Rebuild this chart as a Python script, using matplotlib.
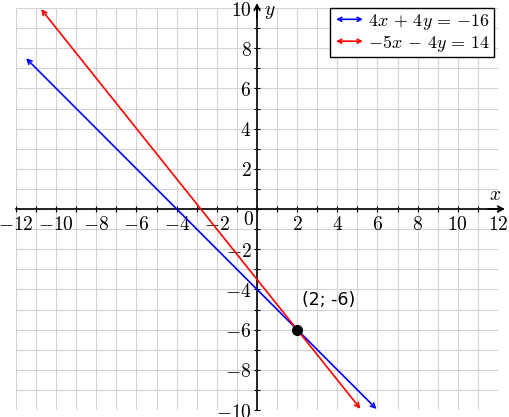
import matplotlib
matplotlib.use("Agg")
import matplotlib.pyplot as plt
from matplotlib.patches import FancyArrowPatch
from matplotlib.legend_handler import HandlerBase
from matplotlib.lines import Line2D

plt.rcParams['mathtext.fontset'] = 'cm'

# line endpoints
blue_x = [-11.5, 5.95]
blue_y = [7.5, -9.95]
red_x = [-10.75, 5.15]
red_y = [9.94, -9.94]
blue_label = r'$4x\,+\,4y\,=\,{-16}$'
red_label = r'${-5}x\,-\,4y\,=\,14$'
point_x, point_y = 2, -6
point_label = '(2; -6)'

x_ticks = [-12, -10, -8, -6, -4, -2, 2, 4, 6, 8, 10, 12]
y_ticks = [-10, -8, -6, -4, -2, 2, 4, 6, 8, 10]


class ArrowHandler(HandlerBase):
    # draws a double arrow as the legend handle
    def create_artists(self, legend, orig_handle, xdescent, ydescent,
                       width, height, fontsize, trans):
        yy = height / 2 - ydescent
        a = FancyArrowPatch((-xdescent, yy), (width - xdescent, yy),
                            arrowstyle='<->', mutation_scale=7,
                            color=orig_handle.get_color(), lw=1.2,
                            transform=trans)
        return [a]


fig = plt.figure(figsize=(5.09, 4.17), dpi=100)
ax = fig.add_axes([16 / 509, 7 / 417, 482 / 509, 402 / 417])
ax.set_xlim(-12, 12)
ax.set_ylim(-10, 10)

# grid every unit
for gx in range(-12, 13):
    ax.plot([gx, gx], [-10, 10], color='#d3d3d3', lw=0.8, zorder=0)
for gy in range(-10, 11):
    ax.plot([-12, 12], [gy, gy], color='#d3d3d3', lw=0.8, zorder=0)

for s in ['top', 'right']:
    ax.spines[s].set_visible(False)
ax.spines['left'].set_position('zero')
ax.spines['bottom'].set_position('zero')
ax.spines['left'].set_linewidth(1.2)
ax.spines['bottom'].set_linewidth(1.2)

ax.set_xticks(x_ticks)
ax.set_xticklabels(['$%d$' % t for t in x_ticks], fontsize=14)
ax.set_yticks(y_ticks)
ax.set_yticklabels(['$%d$' % t for t in y_ticks], fontsize=14)
ax.set_xticks(range(-12, 13), minor=True)
ax.set_yticks(range(-10, 11), minor=True)
ax.tick_params(which='both', direction='inout', length=4, width=0.8, pad=2)
ax.text(-0.15, -0.05, '$0$', fontsize=14, ha='right', va='top')

# axis arrows
ax.annotate('', xy=(12.35, 0), xytext=(11.5, 0),
            arrowprops=dict(arrowstyle='->', lw=1.2, color='black',
                            shrinkA=0, shrinkB=0), annotation_clip=False)
ax.annotate('', xy=(0, 10.25), xytext=(0, 9.5),
            arrowprops=dict(arrowstyle='->', lw=1.2, color='black',
                            shrinkA=0, shrinkB=0), annotation_clip=False)
ax.text(11.85, 0.25, '$x$', fontsize=14, ha='center', va='bottom')
ax.text(0.35, 9.85, '$y$', fontsize=14, ha='left', va='center')

# the two lines with arrows on both ends
ax.annotate('', xy=(blue_x[0], blue_y[0]), xytext=(blue_x[1], blue_y[1]),
            arrowprops=dict(arrowstyle='<->', color='blue', lw=1.2,
                            mutation_scale=8, shrinkA=0, shrinkB=0),
            annotation_clip=False)
ax.annotate('', xy=(red_x[0], red_y[0]), xytext=(red_x[1], red_y[1]),
            arrowprops=dict(arrowstyle='<->', color='red', lw=1.2,
                            mutation_scale=8, shrinkA=0, shrinkB=0),
            annotation_clip=False)

ax.plot(point_x, point_y, 'o', color='black', ms=7, zorder=5)
ax.text(point_x + 0.25, point_y + 1.45, point_label, fontsize=12.5,
        ha='left', va='center')

handles = [Line2D([], [], color='blue'), Line2D([], [], color='red')]
leg = ax.legend(handles, [blue_label, red_label],
                handler_map={Line2D: ArrowHandler()},
                loc='upper right', bbox_to_anchor=(0.992, 1.0),
                borderaxespad=0, fancybox=False, edgecolor='black',
                framealpha=1, fontsize=13, handlelength=1.8,
                handletextpad=0.15, borderpad=0.2, labelspacing=0.05)
leg.get_frame().set_linewidth(1.0)

fig.savefig('out.png', dpi=100)
